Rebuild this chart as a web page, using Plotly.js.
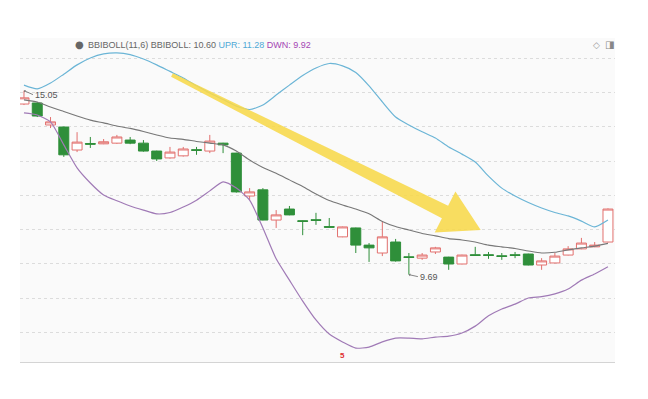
<!DOCTYPE html>
<html>
<head>
<meta charset="utf-8">
<script src="https://cdn.plot.ly/plotly-3.0.1.min.js"></script>
<style>html,body{margin:0;padding:0;background:#fff;}#chart{width:648px;height:399px;}</style>
</head>
<body>
<div id="chart"></div>
<script>
// ---- data ----
const days = [1,2,3,4,5,6,7,8,9,10,11,12,13,14,15,16,17,18,19,20,21,22,23,24,25,26,27,28,29,30,31,32,33,34,35,36,37,38,39,40,41,42,43,44,45];
const openP  = [14.66,14.69,14.05,13.99,13.32,13.51,13.50,13.52,13.61,13.52,13.29,13.09,13.15,13.33,13.29,13.52,13.23,11.98,12.16,11.28,11.60,11.26,11.29,11.09,10.79,11.05,10.55,10.32,10.64,10.21,10.17,10.35,10.20,10.00,10.27,10.27,10.24,10.27,10.29,9.97,10.03,10.26,10.44,10.50,10.64];
const highP  = [15.05,14.72,14.28,14.00,13.84,13.70,13.64,13.76,13.70,13.61,13.30,13.41,13.41,13.41,13.76,13.53,13.24,12.21,12.21,11.57,11.69,11.27,11.49,11.34,11.09,11.06,10.61,11.25,10.73,10.32,10.32,10.50,10.21,10.27,10.50,10.35,10.32,10.35,10.30,10.17,10.32,10.52,10.76,10.64,11.62];
const lowP   = [14.63,14.28,13.96,13.12,13.26,13.38,13.49,13.50,13.49,13.27,13.00,13.07,13.13,13.18,13.23,13.23,12.08,11.86,11.27,11.05,11.42,10.84,11.14,11.06,10.78,10.32,10.06,10.23,10.07,9.69,10.12,10.29,9.83,9.99,10.25,10.15,10.12,10.17,9.96,9.83,10.02,10.25,10.43,10.49,10.63];
const closeP = [14.84,14.31,14.14,13.18,13.55,13.49,13.56,13.70,13.52,13.29,13.06,13.26,13.35,13.31,13.58,13.47,12.10,12.10,11.28,11.43,11.43,11.24,11.27,11.07,11.08,10.55,10.47,10.79,10.09,10.19,10.26,10.47,10.00,10.26,10.25,10.25,10.22,10.25,9.97,10.09,10.23,10.44,10.61,10.55,11.60];
const upperBand = [15.21,15.10,15.27,15.53,15.80,16.00,16.12,16.15,16.10,15.97,15.80,15.61,15.42,15.19,14.98,14.79,14.60,14.50,14.63,14.92,15.21,15.49,15.71,15.84,15.77,15.58,15.19,14.72,14.28,14.05,13.85,13.67,13.41,13.20,12.97,12.56,12.21,11.98,11.79,11.63,11.50,11.40,11.25,11.08,11.28];
const midBand   = [14.78,14.72,14.57,14.44,14.31,14.19,14.11,14.02,13.95,13.86,13.76,13.67,13.63,13.57,13.52,13.47,13.29,13.03,12.81,12.64,12.45,12.26,12.04,11.85,11.72,11.60,11.46,11.24,11.09,10.99,10.89,10.82,10.74,10.70,10.64,10.55,10.50,10.45,10.38,10.32,10.34,10.41,10.47,10.52,10.60];
const lowerBand = [14.40,14.34,14.14,13.47,12.80,12.36,12.01,11.84,11.69,11.57,11.46,11.50,11.66,11.86,12.13,12.39,12.21,11.86,11.05,10.15,9.53,8.92,8.37,7.96,7.73,7.55,7.58,7.73,7.84,7.84,7.82,7.87,7.90,7.99,8.19,8.49,8.69,8.83,9.01,9.05,9.13,9.27,9.53,9.71,9.92];
const indicatorName = "BBIBOLL(11,6)";
const eventLabel = "5";
const eventDay = 25;

// ---- chart ----
const hiIdx = highP.indexOf(Math.max(...highP));
const loIdx = lowP.indexOf(Math.min(...lowP));
const last = days.length - 1;

const PL = 20, PR = 615, PT = 38, PB = 362;
const px = v => (v - PL) / (PR - PL);
const py = v => (PB - v) / (PB - PT);

const traces = [
  {type:'scatter', mode:'lines', x:days, y:upperBand, line:{color:'#6bb5d6', width:1.2, shape:'spline', smoothing:0.6}, hoverinfo:'skip'},
  {type:'scatter', mode:'lines', x:days, y:lowerBand, line:{color:'#a07ab6', width:1.2, shape:'spline', smoothing:0.6}, hoverinfo:'skip'},
  {type:'scatter', mode:'lines', x:days, y:midBand, line:{color:'#777777', width:1.1, shape:'spline', smoothing:0.6}, hoverinfo:'skip'},
  {type:'candlestick', x:days, open:openP, high:highP, low:lowP, close:closeP,
   increasing:{line:{color:'#e2706e', width:1}, fillcolor:'#ffffff'},
   decreasing:{line:{color:'#2f8f3a', width:1}, fillcolor:'#2f8f3a'},
   whiskerwidth:0, hoverinfo:'skip'}
];

// yellow arrow overlay (pixel geometry -> paper coords)
const arrowPts = [[172.9,73.2],[448.1,205.7],[455.4,191.5],[480.7,230],[434.7,232.5],[441.9,218.3],[171.1,76.8]];
const arrowPath = 'M ' + arrowPts.map(p => px(p[0]).toFixed(4) + ',' + py(p[1]).toFixed(4)).join(' L ') + ' Z';

const headerText = indicatorName + ' BBIBOLL: ' + midBand[last].toFixed(2) +
  ' <span style="color:#4fa9d6">UPR: ' + upperBand[last].toFixed(2) + '</span>' +
  ' <span style="color:#a546b4">DWN: ' + lowerBand[last].toFixed(2) + '</span>';

const layout = {
  width:648, height:399,
  margin:{l:PL, r:648-PR, t:PT, b:399-PB, pad:0},
  paper_bgcolor:'#ffffff', plot_bgcolor:'#fafafa',
  showlegend:false, hovermode:false,
  boxgap:0.25, boxgroupgap:0,
  font:{family:'Liberation Sans, Arial, sans-serif', size:9, color:'#555'},
  xaxis:{range:[days[0]-0.3, days[last]+0.53], showgrid:false, zeroline:false, showticklabels:false, ticks:'',
         showline:true, linecolor:'#d4d4d4', linewidth:1, rangeslider:{visible:false}, fixedrange:true},
  yaxis:{range:[7.145, 16.583], dtick:1, tick0:0, showgrid:true, gridcolor:'#dcdcdc', griddash:'dot', gridwidth:1,
         showticklabels:false, zeroline:false, ticks:'', fixedrange:true},
  shapes:[
    {type:'path', xref:'paper', yref:'paper', path:arrowPath, fillcolor:'#f7d84a', opacity:0.88, line:{width:0}, layer:'above'}
  ],
  annotations:[
    {xref:'paper', yref:'paper', x:px(79), y:py(45), text:'●', showarrow:false, font:{size:10, color:'#666', family:'DejaVu Sans'}, xanchor:'center', yanchor:'middle'},
    {xref:'paper', yref:'paper', x:px(86), y:py(45), text:headerText, showarrow:false, font:{size:9, color:'#666'}, xanchor:'left', yanchor:'middle'},
    {xref:'paper', yref:'paper', x:px(596), y:py(45), text:'◇', showarrow:false, font:{size:9, color:'#999', family:'DejaVu Sans'}, xanchor:'center', yanchor:'middle'},
    {xref:'paper', yref:'paper', x:px(609), y:py(45), text:'◨', showarrow:false, font:{size:10, color:'#888', family:'DejaVu Sans'}, xanchor:'center', yanchor:'middle'},
    {x:days[hiIdx], y:highP[hiIdx], text:highP[hiIdx].toFixed(2), showarrow:true, ax:9, ay:4, xanchor:'left', yanchor:'middle',
     arrowhead:1, arrowsize:0.6, arrowwidth:0.8, arrowcolor:'#666', font:{size:9, color:'#555'}, standoff:0},
    {x:days[loIdx], y:lowP[loIdx], text:lowP[loIdx].toFixed(2), showarrow:true, ax:9, ay:2, xanchor:'left', yanchor:'middle',
     arrowhead:1, arrowsize:0.6, arrowwidth:0.8, arrowcolor:'#666', font:{size:9, color:'#555'}, standoff:0},
    {x:eventDay, xref:'x', yref:'paper', y:0, text:'<b>'+eventLabel+'</b>', showarrow:false, yanchor:'bottom', xanchor:'center',
     font:{size:8, color:'#e03030'}}
  ]
};

Plotly.newPlot('chart', traces, layout, {displayModeBar:false, staticPlot:true});
</script>
</body>
</html>
